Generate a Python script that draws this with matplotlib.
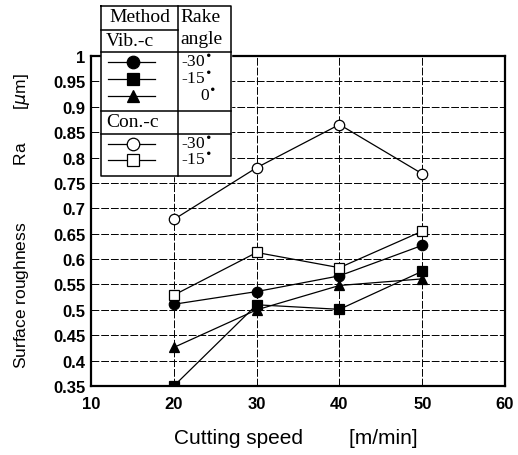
import numpy as np
import matplotlib
matplotlib.use('Agg')
import matplotlib.pyplot as plt
from matplotlib.ticker import FuncFormatter

speed = [20, 30, 40, 50]
vib_m30 = [0.511, 0.536, 0.567, 0.627]
vib_m15 = [0.350, 0.510, 0.501, 0.576]
vib_0 = [0.426, 0.500, 0.548, 0.561]
con_m30 = [0.678, 0.780, 0.865, 0.768]
con_m15 = [0.529, 0.613, 0.583, 0.655]

series = [
    (vib_m30, 'o', 'black', 7.5),
    (vib_m15, 's', 'black', 6.5),
    (vib_0, '^', 'black', 6.5),
    (con_m30, 'o', 'white', 7.5),
    (con_m15, 's', 'white', 6.5),
]

fig = plt.figure(figsize=(5.18, 4.56), dpi=100)
ax = fig.add_axes([0.1757, 0.1513, 0.7993, 0.7237])

for vals, mk, fc, ms in series:
    ax.plot(speed, vals, color='black', lw=0.9, marker=mk, ms=ms,
            mfc=fc, mec='black', mew=0.9, zorder=4)

ax.set_xlim(10, 60)
ax.set_ylim(0.35, 1.0)
ax.set_xticks(np.arange(10, 61, 10))
ax.set_yticks(np.arange(0.35, 1.001, 0.05))
ax.yaxis.set_major_formatter(FuncFormatter(lambda v, p: ('%.2f' % v).rstrip('0').rstrip('.')))
ax.grid(True, color='black', lw=0.7, ls=(0, (8, 2)))
ax.tick_params(length=0, pad=4)
ax.tick_params(axis='x', pad=7)
for lab in ax.get_xticklabels() + ax.get_yticklabels():
    lab.set_fontfamily('Liberation Sans')
    lab.set_fontweight('bold')
    lab.set_fontsize(12)
for sp in ax.spines.values():
    sp.set_linewidth(1.6)

fig.text(296 / 518, 1 - 439 / 456, 'Cutting speed' + ' ' * 8 + '[m/min]', fontsize=15,
         fontfamily='Liberation Sans', ha='center', va='center')
fig.text(22 / 518, 1 - 221 / 456, 'Surface roughness' + ' ' * 12 + 'Ra' + ' ' * 7 + '[$\\mu$m]',
         fontsize=12.5, fontfamily='Liberation Sans', rotation=90, ha='center', va='center')

# legend table drawn in pixel coordinates of the figure
lg = fig.add_axes([0, 0, 1, 1], zorder=10)
lg.set_xlim(0, 518)
lg.set_ylim(456, 0)
lg.axis('off')
lg.patch.set_alpha(0)
lg.fill_between([101, 231], 7, 177, color='white', zorder=1)
kw = dict(color='black', lw=1.1, zorder=2)
lg.plot([101, 231, 231, 101, 101], [7, 7, 177, 177, 7], **kw)
lg.plot([178, 178], [7, 177], **kw)
lg.plot([101, 178], [31, 31], **kw)
for yy in (53, 112, 135):
    lg.plot([101, 231], [yy, yy], **kw)

tf = dict(fontfamily='Liberation Serif', fontsize=14, va='center', zorder=3)
lg.text(140, 18, 'Method', ha='center', **tf)
lg.text(106, 41, 'Vib.-c', ha='left', **tf)
lg.text(180, 18, 'Rake', ha='left', **tf)
lg.text(180, 40, 'angle', ha='left', **tf)
lg.text(106, 123, 'Con.-c', ha='left', **tf)

rows_y = [63, 80, 97, 145, 161]
labels = ['-30$^{\\bullet}$', '-15$^{\\bullet}$', '0$^{\\bullet}$', '-30$^{\\bullet}$', '-15$^{\\bullet}$']
for (vals, mk, fc, ms), yy, lab in zip(series, rows_y, labels):
    lg.plot([108, 155], [yy, yy], color='black', lw=0.9, zorder=3)
    lg.plot([133], [yy], marker=mk, ms=ms + 1.5, mfc=fc, mec='black', mew=0.9, zorder=4)
    if lab.startswith('0'):
        lg.text(216, yy, lab, ha='right', fontfamily='Liberation Serif', fontsize=12.5,
                va='center', zorder=3)
    else:
        lg.text(181, yy, lab, ha='left', fontfamily='Liberation Serif', fontsize=12.5,
                va='center', zorder=3)

fig.savefig('out.png', dpi=100)
